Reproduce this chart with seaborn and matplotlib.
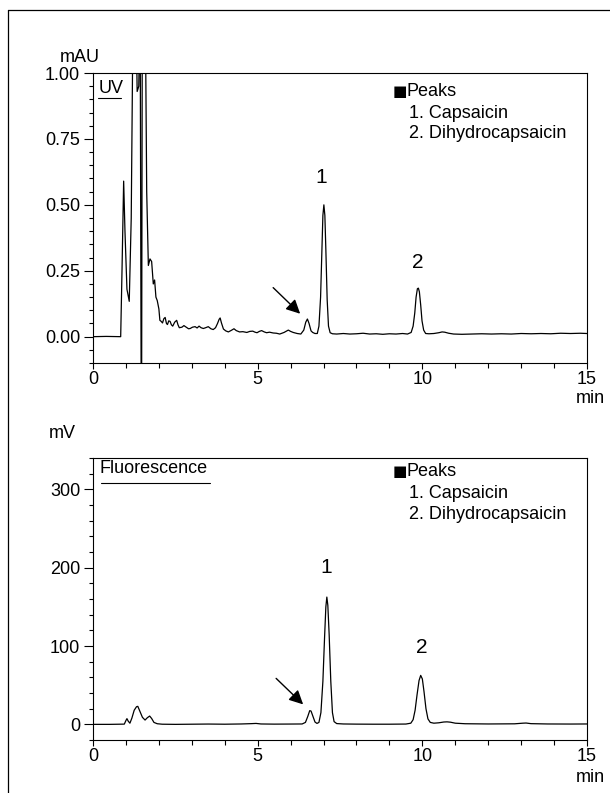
import numpy as np
import pandas as pd
import seaborn as sns
import matplotlib.pyplot as plt
from matplotlib.lines import Line2D
from matplotlib.ticker import MultipleLocator, FormatStrFormatter

# UV trace (min, mAU)
uv_time = [0.00, 0.40, 0.84, 0.88, 0.93, 0.97, 1.03, 1.10, 1.16, 1.22, 1.26, 1.30, 1.34, 1.39,
           1.43, 1.47, 1.50, 1.55, 1.59, 1.63, 1.68, 1.73, 1.78, 1.83, 1.87, 1.91, 1.95, 2.00,
           2.03, 2.07, 2.11, 2.15, 2.19, 2.23, 2.26, 2.30, 2.34, 2.38, 2.42, 2.48, 2.54, 2.58,
           2.62, 2.70, 2.76, 2.82, 2.90, 2.95, 3.02, 3.10, 3.16, 3.22, 3.28, 3.35, 3.42, 3.50,
           3.58, 3.65, 3.72, 3.78, 3.83, 3.86, 3.90, 3.96, 4.03, 4.11, 4.20, 4.28, 4.35, 4.45,
           4.55, 4.67, 4.76, 4.85, 4.92, 4.98, 5.05, 5.12, 5.20, 5.27, 5.36, 5.47, 5.57, 5.67,
           5.80, 5.93, 6.00, 6.08, 6.20, 6.31, 6.40, 6.46, 6.51, 6.56, 6.62, 6.67, 6.74, 6.81,
           6.86, 6.91, 6.95, 6.98, 7.01, 7.04, 7.07, 7.11, 7.15, 7.20, 7.27, 7.40, 7.60, 7.80,
           8.00, 8.20, 8.40, 8.60, 8.80, 9.00, 9.20, 9.40, 9.55, 9.66, 9.72, 9.77, 9.81, 9.85,
           9.88, 9.91, 9.95, 9.99, 10.04, 10.10, 10.20, 10.35, 10.50, 10.60, 10.68, 10.80,
           10.95, 11.20, 11.50, 11.80, 12.10, 12.40, 12.70, 13.00, 13.30, 13.60, 13.90, 14.20,
           14.50, 14.80, 15.00]
uv_signal = [0.000, 0.001, 0.000, 0.25, 0.59, 0.40, 0.18, 0.134, 0.45, 1.30, 3.20, 1.30, 0.93, 0.95,
             1.30, -0.60, 1.50, 3.20, 1.20, 0.55, 0.27, 0.295, 0.285, 0.20, 0.215, 0.15, 0.137, 0.105,
             0.062, 0.058, 0.052, 0.068, 0.073, 0.050, 0.046, 0.060, 0.058, 0.045, 0.040, 0.055, 0.062, 0.045,
             0.034, 0.036, 0.042, 0.037, 0.030, 0.031, 0.036, 0.038, 0.033, 0.040, 0.034, 0.031, 0.034, 0.038,
             0.030, 0.027, 0.034, 0.050, 0.066, 0.071, 0.052, 0.029, 0.022, 0.018, 0.024, 0.030, 0.023, 0.018,
             0.019, 0.016, 0.020, 0.021, 0.017, 0.015, 0.020, 0.023, 0.018, 0.015, 0.017, 0.014, 0.013, 0.010,
             0.016, 0.025, 0.020, 0.016, 0.012, 0.010, 0.025, 0.055, 0.067, 0.050, 0.022, 0.016, 0.012, 0.012,
             0.040, 0.15, 0.33, 0.46, 0.50, 0.46, 0.33, 0.14, 0.040, 0.015, 0.011, 0.010, 0.012, 0.010,
             0.011, 0.013, 0.010, 0.011, 0.009, 0.011, 0.010, 0.012, 0.010, 0.016, 0.040, 0.090, 0.15, 0.182,
             0.184, 0.17, 0.12, 0.06, 0.025, 0.012, 0.011, 0.012, 0.015, 0.018, 0.017, 0.013,
             0.010, 0.009, 0.010, 0.011, 0.010, 0.011, 0.010, 0.012, 0.011, 0.012, 0.011, 0.013,
             0.012, 0.013, 0.012]

# Fluorescence trace (min, mV)
fl_time = [0.00, 0.50, 0.95, 1.00, 1.03, 1.07, 1.12, 1.18, 1.25, 1.32, 1.36, 1.42, 1.50, 1.58,
           1.65, 1.72, 1.78, 1.85, 1.95, 2.10, 2.50, 3.00, 3.50, 4.00, 4.50, 4.80, 4.95, 5.10,
           5.50, 6.00, 6.35, 6.45, 6.52, 6.58, 6.62, 6.68, 6.74, 6.80, 6.86, 6.92, 6.98, 7.03,
           7.07, 7.10, 7.13, 7.17, 7.22, 7.27, 7.32, 7.40, 7.60, 8.00, 8.50, 9.00, 9.50, 9.65,
           9.72, 9.78, 9.84, 9.90, 9.95, 10.00, 10.05, 10.11, 10.17, 10.24, 10.35, 10.50, 10.65,
           10.75, 10.85, 11.00, 11.30, 12.00, 12.80, 13.05, 13.15, 13.30, 13.80, 14.50, 15.00]
fl_signal = [0.0, 0.0, 0.3, 5.0, 7.3, 4.0, 1.5, 8.0, 18.0, 22.5, 23.0, 17.0, 9.0, 5.5,
             8.5, 10.6, 7.5, 2.5, 0.8, 0.2, 0.0, 0.2, 0.4, 0.2, 0.5, 0.9, 1.2, 0.5,
             0.3, 0.4, 0.5, 2.5, 10.0, 17.5, 17.0, 10.0, 3.0, 1.2, 2.5, 15.0, 55.0, 110.0,
             150.0, 162.5, 152.0, 115.0, 55.0, 15.0, 3.5, 1.0, 0.5, 0.3, 0.2, 0.2, 0.4, 1.5,
             6.0, 18.0, 38.0, 56.0, 62.5, 58.0, 42.0, 20.0, 7.0, 2.5, 1.5, 2.0, 3.0,
             3.2, 2.8, 1.5, 0.8, 0.5, 0.7, 1.5, 1.7, 0.9, 0.5, 0.4, 0.5]

peak_names = ["1. Capsaicin", "2. Dihydrocapsaicin"]

sns.set_theme(style="ticks", rc={"axes.edgecolor": "black", "xtick.color": "black",
                                 "ytick.color": "black", "text.color": "black",
                                 "axes.labelcolor": "black"})
plt.rcParams['font.family'] = ['Liberation Sans', 'DejaVu Sans']

FS = 13

df_uv = pd.DataFrame({'time': uv_time, 'signal': uv_signal})
df_fl = pd.DataFrame({'time': fl_time, 'signal': fl_signal})

fig = plt.figure(figsize=(6.1, 7.93), dpi=100)
ax_uv = fig.add_axes([0.1525, 0.5422, 0.8098, 0.3657])
ax_fl = fig.add_axes([0.1525, 0.0668, 0.8098, 0.3556])

# outer frame (cut off at right and bottom)
fig.add_artist(Line2D([0.0131, 0.0131], [0, 0.9874], transform=fig.transFigure, color='black', lw=0.9))
fig.add_artist(Line2D([0.0131, 1.0], [0.9874, 0.9874], transform=fig.transFigure, color='black', lw=0.9))

for ax, df in [(ax_uv, df_uv), (ax_fl, df_fl)]:
    sns.lineplot(data=df, x='time', y='signal', ax=ax, color='black', lw=0.9,
                 estimator=None, sort=False)
    ax.set_xlim(0, 15)
    ax.set_xlabel('')
    ax.set_ylabel('')
    ax.xaxis.set_major_locator(MultipleLocator(5))
    ax.xaxis.set_minor_locator(MultipleLocator(1))
    ax.tick_params(axis='both', which='both', direction='out', width=0.8, labelsize=FS)
    ax.tick_params(axis='y', which='major', length=6.3, pad=3)
    ax.tick_params(axis='y', which='minor', length=3.1)
    ax.tick_params(axis='x', which='major', length=4, pad=2)
    ax.tick_params(axis='x', which='minor', length=3.5)
    for s in ax.spines.values():
        s.set_linewidth(0.8)
        s.set_color('black')

ax_uv.set_ylim(-0.1, 1.0)
ax_uv.yaxis.set_major_locator(MultipleLocator(0.25))
ax_uv.yaxis.set_minor_locator(MultipleLocator(0.05))
ax_uv.yaxis.set_major_formatter(FormatStrFormatter('%.2f'))

ax_fl.set_ylim(-20, 340)
ax_fl.yaxis.set_major_locator(MultipleLocator(100))
ax_fl.yaxis.set_minor_locator(MultipleLocator(20))

# units
fig.text(80 / 610, 1 - 57 / 793, 'mAU', ha='center', va='center', fontsize=FS)
fig.text(62 / 610, 1 - 433 / 793, 'mV', ha='center', va='center', fontsize=FS)
fig.text(590 / 610, 1 - 398 / 793, 'min', ha='center', va='center', fontsize=FS)
fig.text(590 / 610, 1 - 778 / 793, 'min', ha='center', va='center', fontsize=FS)

# detector tags
ax_uv.text(0.012, 0.946, 'UV', transform=ax_uv.transAxes, ha='left', va='center', fontsize=FS)
ax_uv.plot([0.010, 0.057], [0.913, 0.913], transform=ax_uv.transAxes, color='black', lw=0.8)
ax_fl.text(0.014, 0.962, 'Fluorescence', transform=ax_fl.transAxes, ha='left', va='center', fontsize=FS)
ax_fl.plot([0.016, 0.237], [0.911, 0.911], transform=ax_fl.transAxes, color='black', lw=0.8)

# peak legend
for ax, ys in [(ax_uv, [0.938, 0.862, 0.790]), (ax_fl, [0.954, 0.876, 0.801])]:
    ax.text(0.6075, ys[0], '\u25A0', transform=ax.transAxes, ha='left', va='center',
            fontsize=11, family='DejaVu Sans')
    ax.text(0.6355, ys[0], 'Peaks', transform=ax.transAxes, ha='left', va='center', fontsize=FS)
    for name, y in zip(peak_names, ys[1:]):
        ax.text(0.640, y, name, transform=ax.transAxes, ha='left', va='center', fontsize=FS)

# peak numbers
ax_uv.text(6.92, 0.605, '1', ha='center', va='center', fontsize=15)
ax_uv.text(9.87, 0.281, '2', ha='center', va='center', fontsize=15)
ax_fl.text(7.08, 200, '1', ha='center', va='center', fontsize=15)
ax_fl.text(9.99, 98, '2', ha='center', va='center', fontsize=15)

# arrows to the small peak
arrow = dict(arrowstyle='-|>,head_length=0.7,head_width=0.35', color='black', lw=1.0,
             mutation_scale=12, shrinkA=0, shrinkB=0)
ax_uv.annotate('', xy=(6.29, 0.087), xytext=(5.47, 0.186), arrowprops=arrow)
ax_fl.annotate('', xy=(6.38, 25.5), xytext=(5.56, 58.7), arrowprops=arrow)

fig.savefig('out.png', dpi=100)
